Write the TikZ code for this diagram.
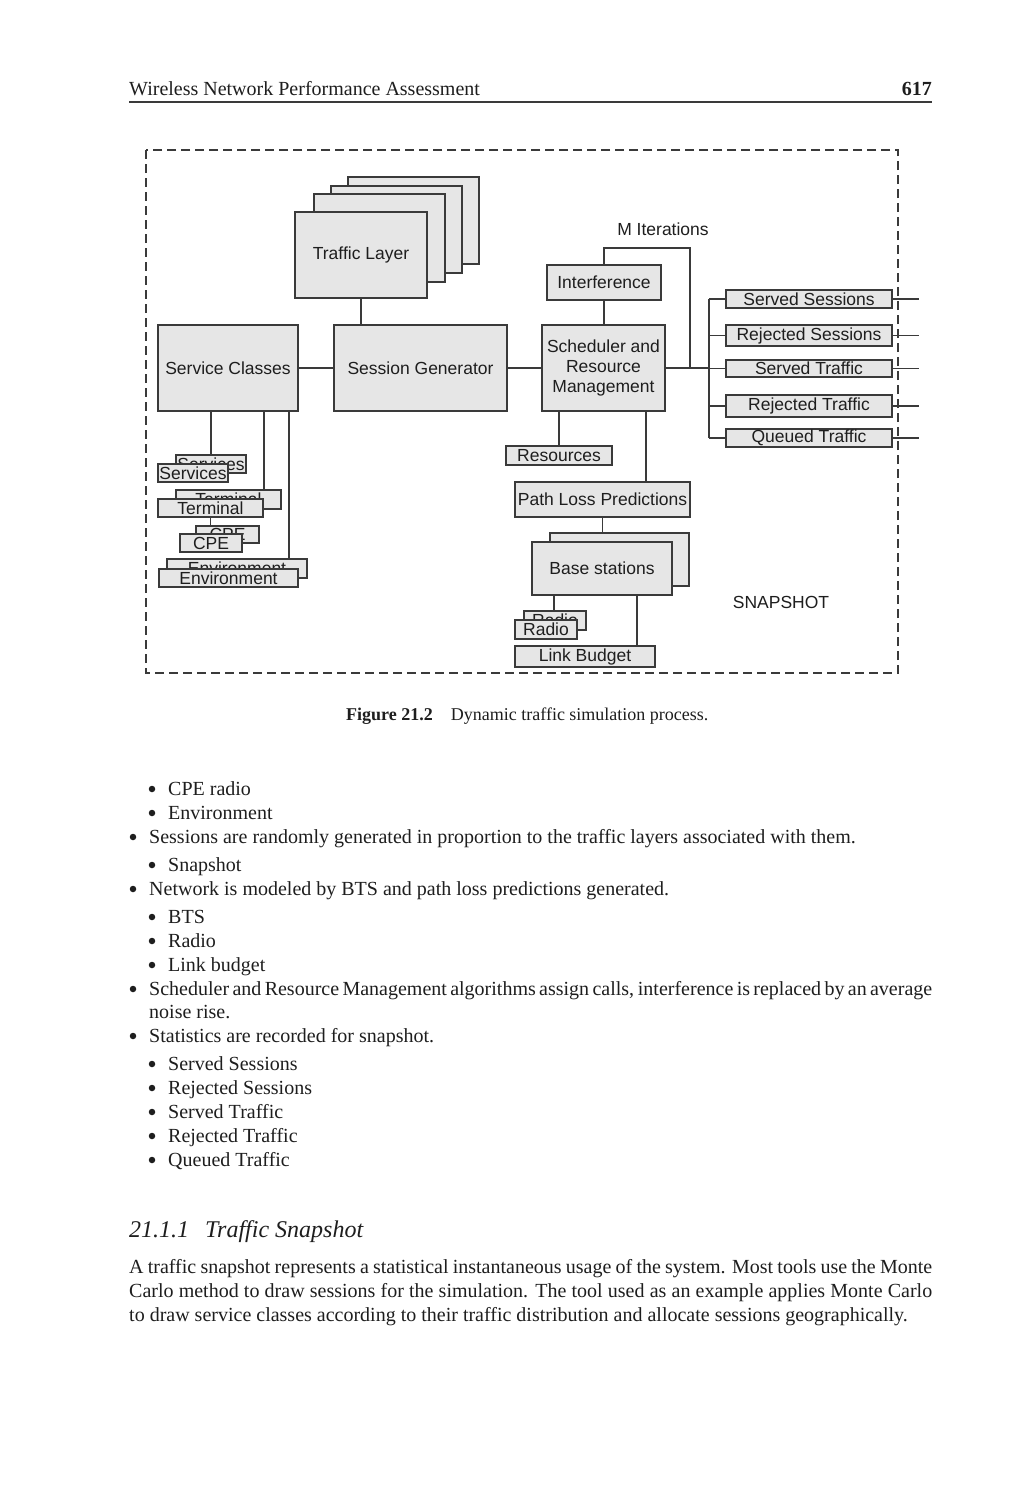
\documentclass[tikz,border=0pt]{standalone}
\usepackage{fontspec}
\setmainfont{Liberation Serif}
\newfontfamily\diagfont{Liberation Sans}
\usetikzlibrary{calc}
\definecolor{lineC}{HTML}{3A3A3A}
\definecolor{boxC}{HTML}{E6E6E6}
\definecolor{txtC}{HTML}{1E1E1E}
\tikzset{
  box/.style={draw=lineC, fill=boxC, line width=1.3pt, inner sep=0pt, align=center,
    font=\diagfont\fontsize{17.5}{20}\selectfont, text=txtC},
  conn/.style={draw=lineC, line width=1.3pt},
  body/.style={anchor=base west, inner sep=0pt, font=\fontsize{20}{24}\selectfont, text=txtC},
  bul/.style={circle, fill=txtC, inner sep=0pt, minimum size=6.5pt},
  dlabel/.style={inner sep=0pt, font=\diagfont\fontsize{17.5}{20}\selectfont, text=txtC}
}
\begin{document}
\begin{tikzpicture}[x=1pt,y=-1pt]
\useasboundingbox[fill=white] (0,0) rectangle (1032,1500);

% header
\node[body] (hdr) at (129,95) {Wireless Network Performance Assessment};
\node[body,anchor=base east] (pg) at (932,95) {\bfseries 617};
\coordinate (rl) at (129,102);
\coordinate (rr) at (932,102);
\draw[draw=lineC, line width=1.2pt] (rl) -- (rr);

% snapshot frame
\coordinate (f1) at (146,150);
\coordinate (f2) at (898,673);
\draw[draw=lineC, line width=1.3pt, dash pattern=on 9pt off 5pt] (f1) rectangle (f2);

% ---------- boxes ----------
% traffic layers
\node[box, minimum width=131pt, minimum height=87pt] (TL4) at (413.5,220.5) {};
\node[box, minimum width=131pt, minimum height=87pt] (TL3) at (396.5,229.5) {};
\node[box, minimum width=131pt, minimum height=88pt] (TL2) at (379.5,238) {};
\node[box, minimum width=132pt, minimum height=86pt] (TL1) at (361,255) {Traffic Layer};

\node[box, minimum width=140pt, minimum height=86pt] (SC) at (228,368) {Service Classes};
\node[box, minimum width=173pt, minimum height=86pt] (SG) at (420.5,368) {Session Generator};
\node[box, minimum width=123pt, minimum height=86pt] (SR) at (603.5,368) {Scheduler and\\Resource\\Management};
\node[box, minimum width=114pt, minimum height=35pt] (IF) at (604,282.5) {Interference};
\node[dlabel] (MI) at (663,229) {M Iterations};

% outputs
\node[box, minimum width=166pt, minimum height=18pt] (SS) at (809,299) {Served Sessions};
\node[box, minimum width=166pt, minimum height=21pt] (RS) at (809,335.5) {Rejected Sessions};
\node[box, minimum width=166pt, minimum height=17pt] (ST) at (809,368.5) {Served Traffic};
\node[box, minimum width=166pt, minimum height=22pt] (RT) at (809,406) {Rejected Traffic};
\node[box, minimum width=166pt, minimum height=18pt] (QT) at (809,438) {Queued Traffic};

% network side
\node[box, minimum width=106pt, minimum height=19pt] (RES) at (559,455.5) {Resources};
\node[box, minimum width=175pt, minimum height=35pt] (PL) at (602.5,499.5) {Path Loss Predictions};
\node[box, minimum width=139pt, minimum height=53pt] (BSb) at (619.5,559.5) {};
\node[box, minimum width=140pt, minimum height=53pt] (BSf) at (602,568.5) {Base stations};
\node[box, minimum width=62pt, minimum height=19pt] (Rb) at (555,620.5) {Radio};
\node[box, minimum width=62pt, minimum height=19pt] (Rf) at (546,629.5) {Radio};
\node[box, minimum width=140pt, minimum height=21pt] (LB) at (585,656.5) {Link Budget};
\node[dlabel] (SN) at (781,602) {SNAPSHOT};

% service class details
\node[box, minimum width=70pt, minimum height=18pt] (Sb) at (211,464) {Services};
\node[box, minimum width=70pt, minimum height=18pt] (Sf) at (193,473) {Services};
\node[box, minimum width=105pt, minimum height=19pt] (Tb) at (228.5,499.5) {Terminal};
\node[box, minimum width=105pt, minimum height=18pt] (Tf) at (210.5,508) {Terminal};
\node[box, minimum width=63pt, minimum height=17pt] (Cb) at (227.5,534.5) {CPE};
\node[box, minimum width=62pt, minimum height=18pt] (Cf) at (211,543) {CPE};
\node[box, minimum width=140pt, minimum height=19pt] (Eb) at (237,568.5) {Environment};
\node[box, minimum width=139pt, minimum height=18pt] (Ef) at (228.5,578) {Environment};

% ---------- connectors ----------
\draw[conn] (TL1.south) -- (TL1.south |- SG.north);
\draw[conn] (SC.east) -- (SG.west);
\draw[conn] (SG.east) -- (SR.west);
\draw[conn] (IF.south) -- (IF.south |- SR.north);
\coordinate (loopR) at (690,248);
\coordinate (loopJ) at (690,368);
\draw[conn] (IF.north) |- (loopR) -- (loopJ);
\coordinate (busJ) at (709,368);
\coordinate (busT) at (709,299);
\coordinate (busB) at (709,438);
\draw[conn] (SR.east) -- (busJ);
\draw[conn] (busT) -- (busB);
\foreach \b in {SS,RS,ST,RT,QT}{
  \draw[conn] (\b.west -| busT) -- (\b.west);
  \draw[conn] (\b.east) -- ++(26,0);
}
\draw[conn] (RES.north) -- (RES.north |- SR.south);
\draw[conn] ([xshift=42.5pt]SR.south) -- ([xshift=42.5pt]SR.south |- PL.north);
\draw[conn] (PL.south) -- (PL.south |- BSb.north);
\draw[conn] ([xshift=-48pt]BSf.south) -- ([xshift=-48pt]BSf.south |- Rb.north);
\draw[conn] ([xshift=35pt]BSf.south) -- ([xshift=35pt]BSf.south |- LB.north);
\draw[conn] (Sb.north) -- (Sb.north |- SC.south);
\draw[conn] ([xshift=36pt]SC.south) -- ([xshift=36pt]SC.south |- Tb.north);
\draw[conn] ([xshift=61pt]SC.south) -- ([xshift=61pt]SC.south |- Eb.north);
\draw[conn] (Tf.south) -- (Tf.south |- Cb.north);

% caption
\node[body, font=\fontsize{18}{22}\selectfont] (cap) at (346,720) {\textbf{Figure 21.2}\hspace{18pt}Dynamic traffic simulation process.};

% body text
\node[bul] (b1) at (152,789) {}; \node[body] (l1) at (168,795) {CPE radio};
\node[bul] (b2) at (152,813) {}; \node[body] (l2) at (168,819) {Environment};
\node[bul] (b3) at (133,837) {}; \node[body] (l3) at (149,843) {Sessions are randomly generated in proportion to the traffic layers associated with them.};
\node[bul] (b4) at (152,865) {}; \node[body] (l4) at (168,871) {Snapshot};
\node[bul] (b5) at (133,889) {}; \node[body] (l5) at (149,895) {Network is modeled by BTS and path loss predictions generated.};
\node[bul] (b6) at (152,917) {}; \node[body] (l6) at (168,923) {BTS};
\node[bul] (b7) at (152,941) {}; \node[body] (l7) at (168,947) {Radio};
\node[bul] (b8) at (152,965) {}; \node[body] (l8) at (168,971) {Link budget};
\node[bul] (b9) at (133,989) {}; \node[body] (l9) at (149,995) {\makebox[783pt][s]{Scheduler and Resource Management algorithms assign calls, interference is replaced by an average}};
\node[body] (l10) at (149,1018) {noise rise.};
\node[bul] (b11) at (133,1036) {}; \node[body] (l11) at (149,1042) {Statistics are recorded for snapshot.};
\node[bul] (b12) at (152,1064) {}; \node[body] (l12) at (168,1070) {Served Sessions};
\node[bul] (b13) at (152,1088) {}; \node[body] (l13) at (168,1094) {Rejected Sessions};
\node[bul] (b14) at (152,1112) {}; \node[body] (l14) at (168,1118) {Served Traffic};
\node[bul] (b15) at (152,1136) {}; \node[body] (l15) at (168,1142) {Rejected Traffic};
\node[bul] (b16) at (152,1160) {}; \node[body] (l16) at (168,1166) {Queued Traffic};

\node[body, font=\fontsize{24}{28}\selectfont\itshape] (h1) at (129,1237) {21.1.1\hspace{16pt}Traffic Snapshot};

\node[body] (p1) at (129,1273) {\makebox[803pt][s]{A traffic snapshot represents a statistical instantaneous usage of the system. Most tools use the Monte}};
\node[body] (p2) at (129,1297) {\makebox[803pt][s]{Carlo method to draw sessions for the simulation. The tool used as an example applies Monte Carlo}};
\node[body] (p3) at (129,1321) {to draw service classes according to their traffic distribution and allocate sessions geographically.};
\end{tikzpicture}
\end{document}
